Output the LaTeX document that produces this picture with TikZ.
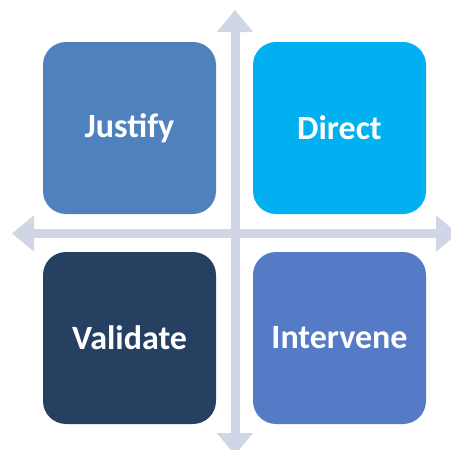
\documentclass[tikz,border=0pt]{standalone}
\usepackage{fontspec}
\setmainfont{Carlito}
\usetikzlibrary{arrows.meta}
\definecolor{cJust}{HTML}{4F81BD}
\definecolor{cDir}{HTML}{00B0F0}
\definecolor{cVal}{HTML}{254061}
\definecolor{cInt}{HTML}{557AC6}
\definecolor{cAxis}{HTML}{D0D6E6}
\tikzset{
  quad/.style={rounded corners=23pt, minimum width=173pt, minimum height=172pt, inner sep=0pt,
    text=white, font=\fontsize{34}{38}\selectfont\bfseries, anchor=center},
  axis/.style={draw=cAxis, line width=9pt, {Triangle[length=22pt,width=35pt]}-{Triangle[length=22pt,width=35pt]}}
}
\begin{document}
\begin{tikzpicture}[x=1pt,y=-1pt]
\useasboundingbox (0,0) rectangle (451,450);
\clip (0,0) rectangle (451,450);
\coordinate (top) at (235,10);
\coordinate (bot) at (235,455);
\coordinate (lft) at (12,233.5);
\coordinate (rgt) at (458,233.5);
\draw[axis] (bot) -- (top);
\draw[axis] (lft) -- (rgt);
\node[quad, fill=cJust] (just) at (129.5,128) {Justify};
\node[quad, fill=cDir] (dir) at (339.5,128) {Direct};
\node[quad, fill=cVal] (val) at (129.5,338) {Validate};
\node[quad, fill=cInt] (int) at (339.5,338) {Intervene};
\end{tikzpicture}
\end{document}
